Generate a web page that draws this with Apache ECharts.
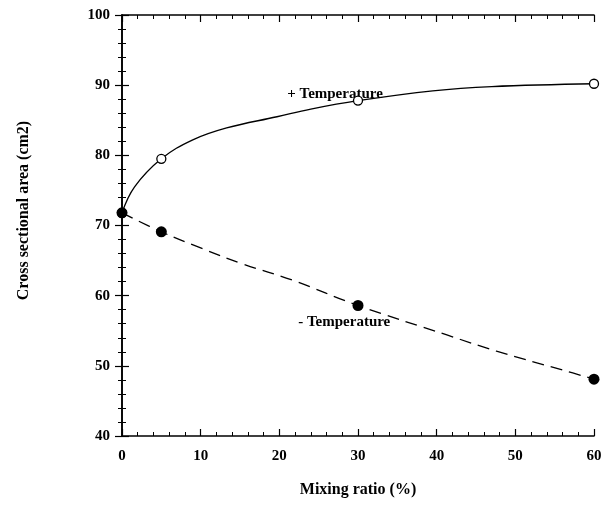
<!DOCTYPE html>
<html>
<head>
<meta charset="utf-8">
<script src="https://cdn.jsdelivr.net/npm/echarts@6/dist/echarts.min.js"></script>
<style>
  html, body { margin: 0; padding: 0; background: #fff; }
  #main { width: 610px; height: 510px; }
</style>
</head>
<body>
<div id="main"></div>
<script>
// measured points
var ratio = [0, 5, 30, 60];
var plusTemp = [71.8, 79.5, 87.8, 90.2];
var minusTemp = [71.8, 69.1, 58.6, 48.1];

// fitted curves
var plusFitX = [0, 1.6, 5, 9, 13.3, 19.7, 24, 30, 39.5, 47, 60];
var plusFitY = [71.8, 75.5, 79.5, 82.2, 83.9, 85.5, 86.6, 87.8, 89.2, 89.8, 90.2];
var minusFitX = [0, 5, 10, 15.4, 21.7, 30, 41.3, 47.6, 56, 60];
var minusFitY = [71.8, 69.1, 66.8, 64.5, 62.2, 58.6, 54.4, 52.1, 49.4, 48.1];

// annotation anchors (data coords)
var labels = [
  { text: '+ Temperature', x: 21.0, y: 88.75 },
  { text: '- Temperature', x: 22.4, y: 56.3 }
];

function zip(xs, ys) {
  return xs.map(function (x, i) { return [x, ys[i]]; });
}

var font = 'Liberation Serif';
var chart = echarts.init(document.getElementById('main'));

var tickStyle = {
  axisLine: { show: true, lineStyle: { color: '#000', width: 1.6 } },
  axisTick: { show: true, inside: true, length: 7, lineStyle: { color: '#000', width: 1.2 } },
  minorTick: { show: true, splitNumber: 5, length: 4, lineStyle: { color: '#000', width: 1 } },
  splitLine: { show: false }
};

chart.setOption({
  animation: false,
  grid: { left: 122, right: 16, top: 15, bottom: 74 },
  xAxis: [
    Object.assign({
      type: 'value', min: 0, max: 60, interval: 10,
      name: 'Mixing ratio (%)', nameLocation: 'middle', nameGap: 46,
      nameTextStyle: { fontFamily: font, fontWeight: 'bold', fontSize: 16, color: '#000' },
      axisLabel: { fontFamily: font, fontWeight: 'bold', fontSize: 15, color: '#000', margin: 13 }
    }, tickStyle),
    Object.assign({
      type: 'value', min: 0, max: 60, interval: 10, position: 'top',
      axisLabel: { show: false }
    }, tickStyle)
  ],
  yAxis: [
    Object.assign({
      type: 'value', min: 40, max: 100, interval: 10,
      name: 'Cross sectional area (cm2)', nameLocation: 'middle', nameGap: 90,
      nameTextStyle: { fontFamily: font, fontWeight: 'bold', fontSize: 16, color: '#000', padding: [0, 0, 0, 30] },
      axisLabel: { fontFamily: font, fontWeight: 'bold', fontSize: 15, color: '#000', margin: 12 }
    }, tickStyle),
    Object.assign({
      type: 'value', min: 40, max: 100, interval: 10, position: 'right',
      axisLabel: { show: false }
    }, tickStyle)
  ],
  series: [
    {
      type: 'line', data: zip(plusFitX, plusFitY), smooth: 0.4, symbol: 'none',
      lineStyle: { color: '#000', width: 1.3 }
    },
    {
      type: 'line', data: zip(minusFitX, minusFitY), smooth: 0.4, symbol: 'none',
      lineStyle: { color: '#000', width: 1.3, type: [12, 7] }
    },
    {
      type: 'scatter', data: zip(ratio, plusTemp), symbol: 'circle', symbolSize: 9,
      itemStyle: { color: '#fff', borderColor: '#000', borderWidth: 1.3, opacity: 1 }, z: 5
    },
    {
      type: 'scatter', data: zip(ratio, minusTemp), symbol: 'circle', symbolSize: 11,
      itemStyle: { color: '#000', opacity: 1 }, z: 6
    },
    {
      type: 'scatter', symbolSize: 0, silent: true,
      itemStyle: { opacity: 1 },
      data: labels.map(function (l) { return { value: [l.x, l.y], name: l.text }; }),
      label: {
        show: true, position: 'right', distance: 0,
        formatter: '{b}',
        fontFamily: font, fontWeight: 'bold', fontSize: 15, color: '#000'
      }
    }
  ]
});
</script>
</body>
</html>
